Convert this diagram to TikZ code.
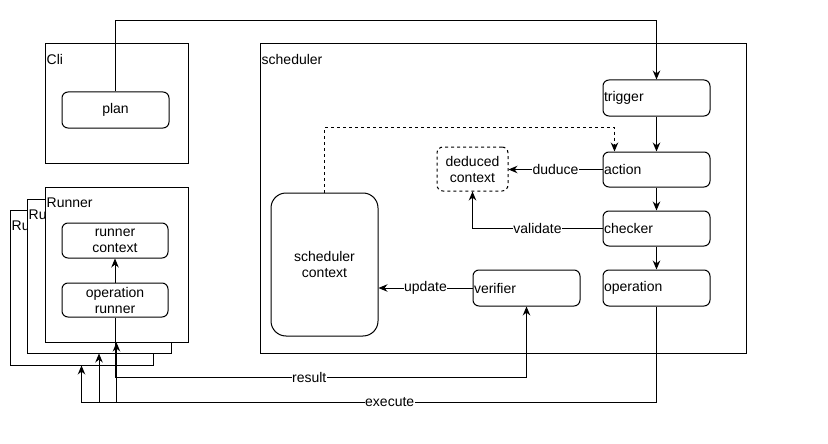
\documentclass[tikz,border=0pt]{standalone}
\usepackage{fontspec}
\setmainfont{Liberation Sans}
\usetikzlibrary{arrows.meta,calc}

\tikzset{
    every node/.style={font=\fontsize{14}{16}\selectfont},
    frame/.style={draw, fill=white, line width=1pt, inner sep=0pt},
    box/.style={draw, fill=white, rounded corners=6pt, line width=1pt, inner sep=1pt, align=center},
    leftbox/.style={box, align=left, inner xsep=1pt},
    lbl/.style={fill=white, inner sep=0.5pt},
    link/.style={line width=1pt, ->},
}

\begin{document}
\begin{tikzpicture}[x=1pt, y=-1pt, >={Stealth[length=9pt,width=7.5pt]}]

    \useasboundingbox (0,0) rectangle (828,444);

    % Cli container
    \node[frame, minimum width=143, minimum height=119,
        label={[anchor=west, yshift=-16pt, inner xsep=2pt]north west:Cli}] (cli) at (116.5,103.5) {};
    \node[box, minimum width=107, minimum height=36] (plan) at (115.5,110) {plan};

    % scheduler container
    \node[frame, minimum width=486, minimum height=309,
        label={[anchor=west, yshift=-16pt, inner xsep=2pt]north west:scheduler}] (scheduler) at (503,198.5) {};

    % pipeline on the right
    \node[leftbox, text width=105, minimum height=36] (trigger) at (656.5,98) {trigger};
    \node[leftbox, text width=105, minimum height=35] (action) at (656.5,169.5) {action};
    \node[leftbox, text width=105, minimum height=35] (checker) at (656.5,228.5) {checker};
    \node[leftbox, text width=105, minimum height=36] (operation) at (656.5,288) {operation};
    \node[leftbox, text width=105, minimum height=36] (verifier) at (526.5,288) {verifier};

    % contexts
    \node[box, dashed, minimum width=71, minimum height=44] (deduced) at (472.5,169) {deduced\\context};
    \node[box, rounded corners=15pt, minimum width=107, minimum height=143] (sctx) at (324.5,264.5) {scheduler\\context};

    % Runner containers (stacked)
    \node[frame, minimum width=143, minimum height=155,
        label={[anchor=west, yshift=-16pt, inner xsep=2pt]north west:Ru}] (runnerA) at (81.5,287.5) {};
    \node[frame, minimum width=144, minimum height=154,
        label={[anchor=west, yshift=-16pt, inner xsep=2pt]north west:Ru}] (runnerB) at (99,276) {};
    \node[frame, minimum width=143, minimum height=155,
        label={[anchor=west, yshift=-16pt, inner xsep=2pt]north west:Runner}] (runnerC) at (116.5,264.5) {};
    \node[box, minimum width=106, minimum height=35] (rctx) at (115,240.5) {runner\\context};
    \node[box, minimum width=106, minimum height=34] (oprunner) at (115,300) {operation\\runner};

    % turning points
    \coordinate (cliturn) at (0,21);
    \coordinate (dashturn) at (0,127);
    \coordinate (resultturn) at (0,377);
    \coordinate (execturn) at (0,402);

    % plan -> trigger
    \draw[link] (plan.north) |- (trigger.north |- cliturn) -- (trigger.north);

    % pipeline
    \draw[link] (trigger) -- (action);
    \draw[link] (action) -- (checker);
    \draw[link] (checker) -- (operation);

    % scheduler context -> action
    \draw[link, dashed] (sctx.north) |- ([xshift=12pt]action.north west |- dashturn)
        -- ([xshift=12pt]action.north west);

    % action / checker -> deduced context
    \draw[link] (action.west) -- node[lbl] {duduce} (action.west -| deduced.east);
    \draw[link] (checker.west) -| node[lbl, pos=0.25] {validate} (deduced.south);

    % verifier -> scheduler context
    \draw[link] (verifier.west) -- node[lbl] {update} (verifier.west -| sctx.east);

    % runner internals
    \draw[link] (oprunner) -- (rctx);

    % result
    \draw[link] (oprunner.south) |- node[lbl, pos=0.736] {result} (verifier.south |- resultturn)
        -- (verifier.south);

    % execute
    \draw[link] (operation.south) |- node[lbl, pos=0.732] {execute} (runnerA.south |- execturn)
        -- (runnerA.south);
    \draw[link] (runnerB.south |- execturn) -- (runnerB.south);
    \draw[link] (runnerC.south |- execturn) -- (runnerC.south);

\end{tikzpicture}
\end{document}
